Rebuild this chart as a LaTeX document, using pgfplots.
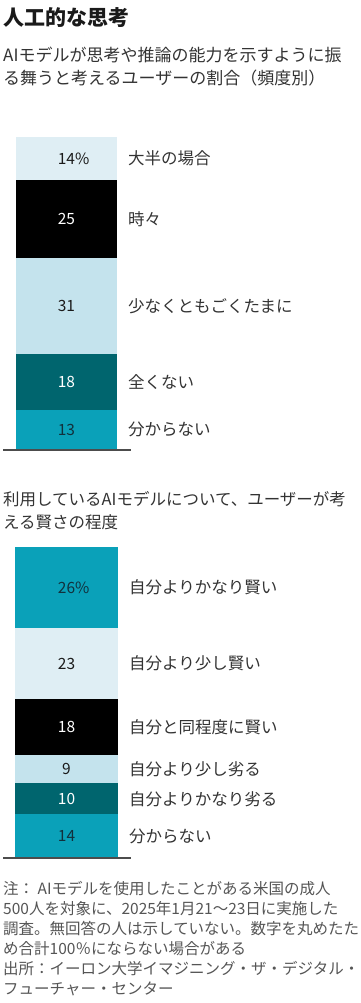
\documentclass[border=0pt]{standalone}
\usepackage{pgfplots}
\pgfplotsset{compat=1.18}
\usepackage{fontspec}
\setmainfont{Noto Sans CJK JP}
\definecolor{cL}{HTML}{DFEEF4}
\definecolor{cM}{HTML}{C4E3ED}
\definecolor{cD}{HTML}{00656E}
\definecolor{cT}{HTML}{0AA1B9}
\definecolor{txt}{HTML}{333333}
\definecolor{note}{HTML}{555555}
\definecolor{dk}{HTML}{1A1A1A}
\definecolor{tdk}{HTML}{12303C}
\newcommand{\pct}{\rlap{\%}}
\pgfplotsset{
  mystack/.style={
    ybar stacked,
    anchor=south west,
    scale only axis,
    xmin=0, xmax=1,
    ymin=0,
    enlarge x limits=false,
    enlarge y limits=false,
    axis line style={draw=none},
    tick style={draw=none},
    major tick length=0pt,
    xtick=\empty,
    yticklabel pos=right,
    yticklabel style={anchor=west, inner sep=0pt, xshift=11pt, text=txt, font=\fontsize{16.5}{20}\selectfont},
    nodes near coords,
    point meta=explicit symbolic,
    every node near coord/.append style={anchor=center, inner sep=0pt, font=\fontsize{15.5}{18}\selectfont},
    clip=false,
  }
}
\begin{document}
\begin{tikzpicture}
\path[use as bounding box] (0pt,0pt) rectangle (360pt,-1003pt);
\node[anchor=west, inner sep=0pt, text=dk, font=\fontsize{21}{24}\selectfont\bfseries] at (3pt,-18pt) {人工的な思考};
\node[anchor=west, inner sep=0pt, text=txt, font=\fontsize{17}{20}\selectfont] at (3pt,-55pt) {AIモデルが思考や推論の能力を示すように振};
\node[anchor=west, inner sep=0pt, text=txt, font=\fontsize{17}{20}\selectfont] at (3pt,-78pt) {る舞うと考えるユーザーの割合（頻度別）};

\begin{axis}[mystack, at={(16pt,-450pt)}, width=101pt, height=313pt, ymax=101, bar width=101pt,
  ytick={6.5,22,46.5,74.5,94},
  yticklabels={分からない,全くない,少なくともごくたまに,時々,大半の場合}]
\addplot[fill=cT, draw=none, nodes near coords style={text=tdk}] coordinates {(0.5,13) [13]};
\addplot[fill=cD, draw=none, nodes near coords style={text=white}] coordinates {(0.5,18) [18]};
\addplot[fill=cM, draw=none, nodes near coords style={text=dk}] coordinates {(0.5,31) [31]};
\addplot[fill=black, draw=none, nodes near coords style={text=white}] coordinates {(0.5,25) [25]};
\addplot[fill=cL, draw=none, nodes near coords style={text=dk}] coordinates {(0.5,14) [14\pct]};
\end{axis}
\draw[color=note!90!black, line width=1.5pt] (3pt,-450pt) -- (131pt,-450pt);

\node[anchor=west, inner sep=0pt, text=txt, font=\fontsize{16.5}{20}\selectfont] at (3pt,-499pt) {利用しているAIモデルについて、ユーザーが考};
\node[anchor=west, inner sep=0pt, text=txt, font=\fontsize{16.5}{20}\selectfont] at (3pt,-522pt) {える賢さの程度};

\begin{axis}[mystack, at={(15pt,-858pt)}, width=103pt, height=311pt, ymax=100, bar width=103pt,
  ytick={7,19,28.5,42,62.5,87},
  yticklabels={分からない,自分よりかなり劣る,自分より少し劣る,自分と同程度に賢い,自分より少し賢い,自分よりかなり賢い}]
\addplot[fill=cT, draw=none, nodes near coords style={text=tdk}] coordinates {(0.5,14) [14]};
\addplot[fill=cD, draw=none, nodes near coords style={text=white}] coordinates {(0.5,10) [10]};
\addplot[fill=cM, draw=none, nodes near coords style={text=dk}] coordinates {(0.5,9) [9]};
\addplot[fill=black, draw=none, nodes near coords style={text=white}] coordinates {(0.5,18) [18]};
\addplot[fill=cL, draw=none, nodes near coords style={text=dk}] coordinates {(0.5,23) [23]};
\addplot[fill=cT, draw=none, nodes near coords style={text=tdk}] coordinates {(0.5,26) [26\pct]};
\end{axis}
\draw[color=note!90!black, line width=1.5pt] (3pt,-858pt) -- (131pt,-858pt);

\foreach \t/\y in {{注：\ AIモデルを使用したことがある米国の成人}/889,
  {500人を対象に、2025年1月21～23日に実施した}/909,
  {調査。無回答の人は示していない。数字を丸めたた}/929,
  {め合計100％にならない場合がある}/949,
  {出所：イーロン大学イマジニング・ザ・デジタル・}/969,
  {フューチャー・センター}/989}
  \node[anchor=west, inner sep=0pt, text=note, font=\fontsize{15.5}{20}\selectfont] at (3pt,-\y pt) {\t};
\end{tikzpicture}
\end{document}
